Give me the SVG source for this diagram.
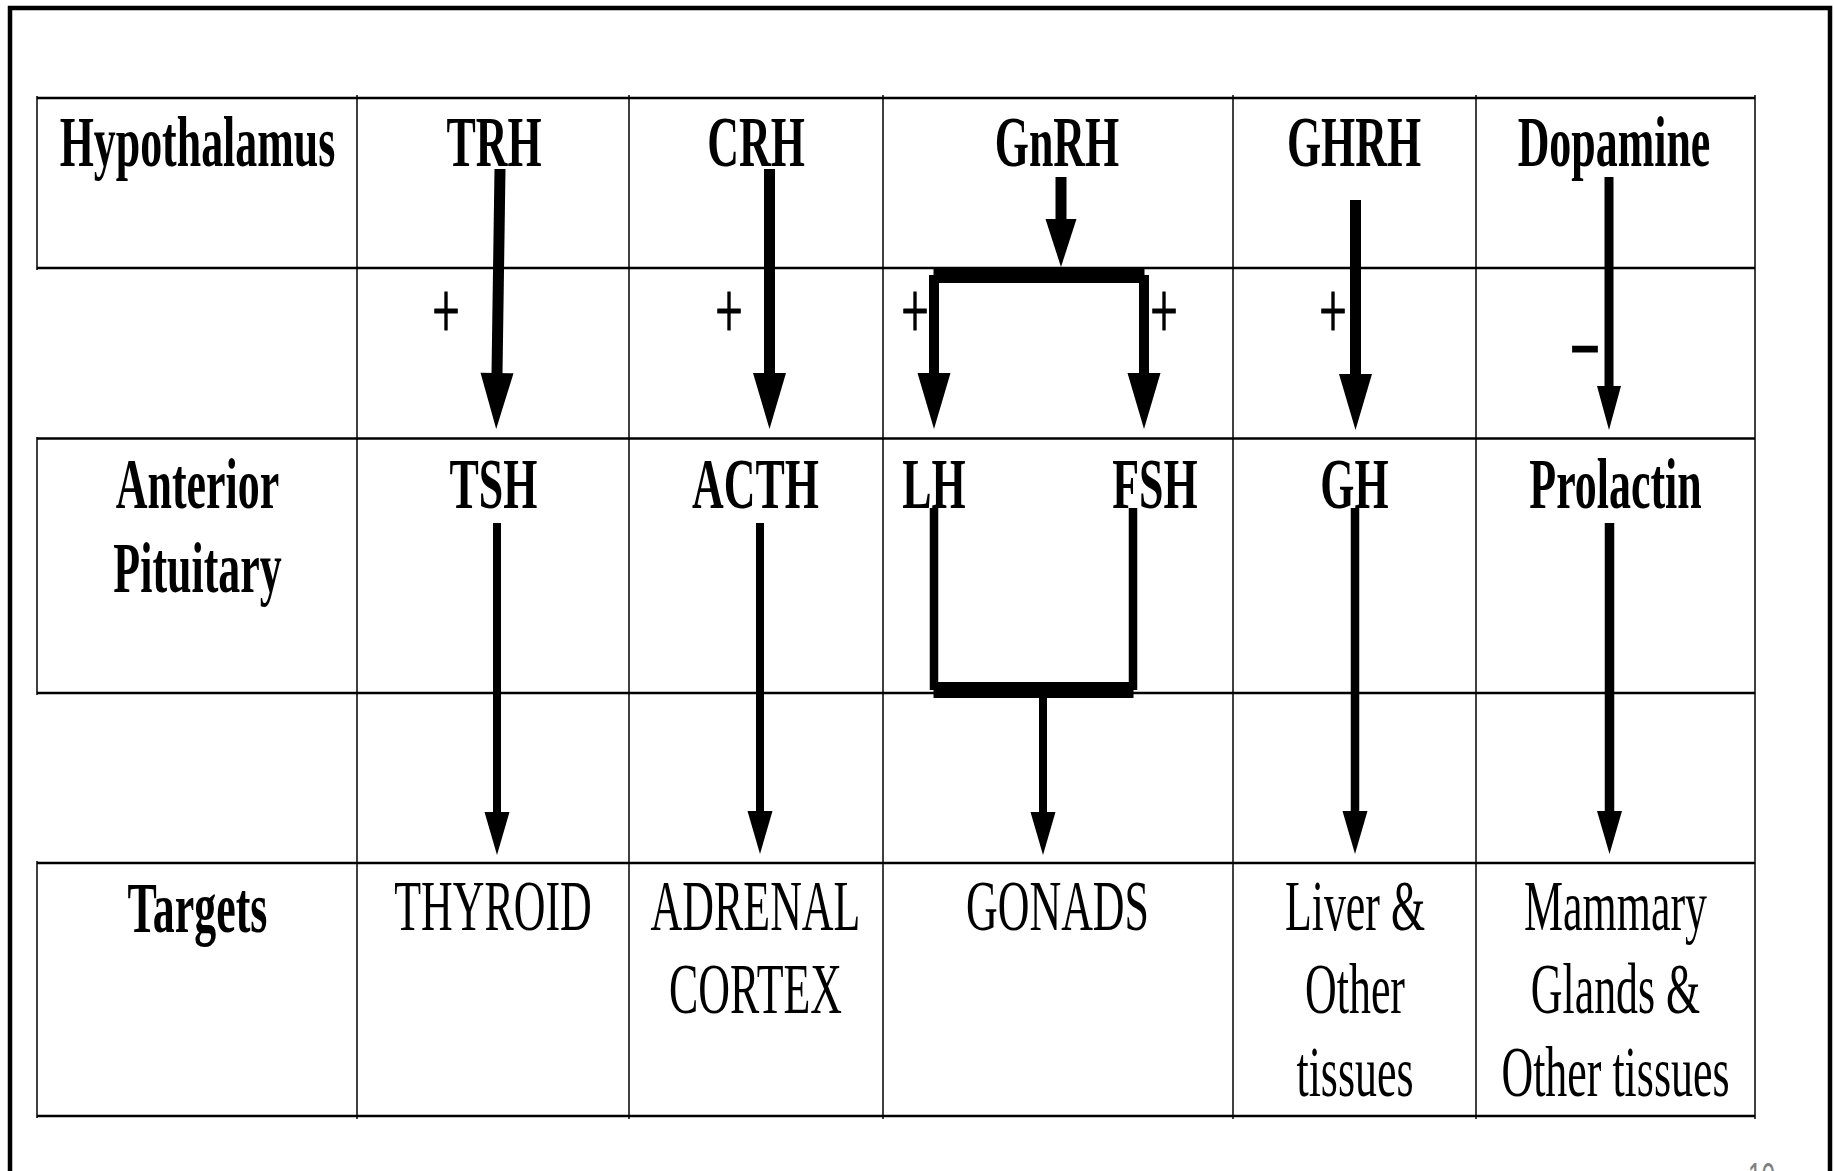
<svg xmlns="http://www.w3.org/2000/svg" width="1834" height="1171" viewBox="0 0 1834 1171">
  <style>
    .frame { fill: none; stroke: #000; stroke-width: 4.5; }
    .gh { stroke: #000; stroke-width: 2.5; }
    .gv { stroke: #000; stroke-width: 1.5; }
    .t { font-family: "Liberation Serif", "Times New Roman", serif; font-size: 72px; text-anchor: middle; fill: #000; }
    .b { font-weight: bold; }
    .sign { font-family: "Liberation Serif", "Times New Roman", serif; font-size: 80px; text-anchor: middle; fill: #000; stroke: #000; stroke-width: 1.2; }
    .pg { font-family: "Liberation Sans", Arial, sans-serif; font-size: 40px; text-anchor: middle; fill: #808080; }
    .ln { stroke: #000; fill: none; stroke-linecap: butt; }
    .bar { stroke: #000; fill: none; stroke-width: 15.5; }
  </style>
  <defs>
    <marker id="headL" markerUnits="userSpaceOnUse" markerWidth="60" markerHeight="40" refX="0" refY="0" orient="auto" overflow="visible">
      <path d="M-1,-16.5 L55,0 L-1,16.5 Z" fill="#000"/>
    </marker>
    <marker id="headM" markerUnits="userSpaceOnUse" markerWidth="50" markerHeight="36" refX="0" refY="0" orient="auto" overflow="visible">
      <path d="M-1,-15.5 L47,0 L-1,15.5 Z" fill="#000"/>
    </marker>
    <marker id="headS" markerUnits="userSpaceOnUse" markerWidth="46" markerHeight="30" refX="0" refY="0" orient="auto" overflow="visible">
      <path d="M-1,-12.5 L42,0 L-1,12.5 Z" fill="#000"/>
    </marker>
    <marker id="headD" markerUnits="userSpaceOnUse" markerWidth="46" markerHeight="30" refX="0" refY="0" orient="auto" overflow="visible">
      <path d="M-1,-12 L43,0 L-1,12 Z" fill="#000"/>
    </marker>
  </defs>

  <rect width="1834" height="1171" fill="#fff"/>

  <!-- slide border (open at the bottom edge) -->
  <path class="frame" d="M10,1190 V8 H1830 V1190"/>

  <!-- table grid -->
  <g id="grid">
    <line class="gh" x1="37" y1="98" x2="1755" y2="98"/>
    <line class="gh" x1="37" y1="268" x2="1755" y2="268"/>
    <line class="gh" x1="37" y1="438.5" x2="1755" y2="438.5"/>
    <line class="gh" x1="37" y1="693" x2="1755" y2="693"/>
    <line class="gh" x1="37" y1="863" x2="1755" y2="863"/>
    <line class="gh" x1="37" y1="1116" x2="1755" y2="1116"/>
    <line class="gv" x1="37" y1="96" x2="37" y2="270"/>
    <line class="gv" x1="37" y1="437" x2="37" y2="695"/>
    <line class="gv" x1="37" y1="861" x2="37" y2="1118"/>
    <line class="gv" x1="357" y1="95" x2="357" y2="1119"/>
    <line class="gv" x1="629" y1="95" x2="629" y2="1119"/>
    <line class="gv" x1="883" y1="95" x2="883" y2="1119"/>
    <line class="gv" x1="1233" y1="95" x2="1233" y2="1119"/>
    <line class="gv" x1="1476" y1="95" x2="1476" y2="1119"/>
    <line class="gv" x1="1755" y1="95" x2="1755" y2="1119"/>
  </g>

  <!-- row headers -->
  <g id="hypothalamus"><text class="t b" transform="translate(197.5,166) scale(0.61,1)">Hypothalamus</text></g>
  <g id="anterior-pituitary">
    <text class="t b" transform="translate(197.5,508) scale(0.61,1)">Anterior</text>
    <text class="t b" transform="translate(197.5,592) scale(0.61,1)">Pituitary</text>
  </g>
  <g id="targets"><text class="t b" transform="translate(197.5,932) scale(0.61,1)">Targets</text></g>

  <!-- hypothalamic hormones -->
  <g id="trh"><text class="t b" transform="translate(494,166) scale(0.61,1)">TRH</text></g>
  <g id="crh"><text class="t b" transform="translate(756,166) scale(0.61,1)">CRH</text></g>
  <g id="gnrh"><text class="t b" transform="translate(1057,166) scale(0.61,1)">GnRH</text></g>
  <g id="ghrh"><text class="t b" transform="translate(1354,166) scale(0.61,1)">GHRH</text></g>
  <g id="dopamine"><text class="t b" transform="translate(1614,166) scale(0.61,1)">Dopamine</text></g>

  <!-- pituitary hormones -->
  <g id="tsh"><text class="t b" transform="translate(493.5,508) scale(0.61,1)">TSH</text></g>
  <g id="acth"><text class="t b" transform="translate(755.5,508) scale(0.61,1)">ACTH</text></g>
  <g id="lh"><text class="t b" transform="translate(934,508) scale(0.61,1)">LH</text></g>
  <g id="fsh"><text class="t b" transform="translate(1155,508) scale(0.61,1)">FSH</text></g>
  <g id="gh"><text class="t b" transform="translate(1354.5,508) scale(0.61,1)">GH</text></g>
  <g id="prolactin"><text class="t b" transform="translate(1615.5,508) scale(0.61,1)">Prolactin</text></g>

  <!-- target tissues -->
  <g id="thyroid"><text class="t" transform="translate(493,930) scale(0.61,1)">THYROID</text></g>
  <g id="adrenal-cortex">
    <text class="t" transform="translate(755.5,930) scale(0.61,1)">ADRENAL</text>
    <text class="t" transform="translate(755.5,1013) scale(0.61,1)">CORTEX</text>
  </g>
  <g id="gonads"><text class="t" transform="translate(1057.5,930) scale(0.61,1)">GONADS</text></g>
  <g id="liver">
    <text class="t" transform="translate(1355,930) scale(0.61,1)">Liver &amp;</text>
    <text class="t" transform="translate(1355,1013) scale(0.61,1)">Other</text>
    <text class="t" transform="translate(1355,1096) scale(0.61,1)">tissues</text>
  </g>
  <g id="mammary">
    <text class="t" transform="translate(1615.5,930) scale(0.61,1)">Mammary</text>
    <text class="t" transform="translate(1615.5,1013) scale(0.61,1)">Glands &amp;</text>
    <text class="t" transform="translate(1615.5,1096) scale(0.61,1)">Other tissues</text>
  </g>

  <!-- connectors -->
  <g id="connectors">
    <!-- hypothalamus to pituitary -->
    <line class="ln" stroke-width="11" x1="500" y1="169" x2="497" y2="374" marker-end="url(#headL)"/>
    <line class="ln" stroke-width="11" x1="769.5" y1="169" x2="769.5" y2="374" marker-end="url(#headL)"/>
    <line class="ln" stroke-width="11" x1="1061" y1="177" x2="1061" y2="220" marker-end="url(#headM)"/>
    <line class="bar" x1="933.5" y1="275.25" x2="1144.5" y2="275.25"/>
    <line class="ln" stroke-width="10" x1="934" y1="275" x2="934" y2="374" marker-end="url(#headL)"/>
    <line class="ln" stroke-width="10" x1="1144" y1="275" x2="1144" y2="374" marker-end="url(#headL)"/>
    <line class="ln" stroke-width="11" x1="1355.5" y1="200" x2="1355.5" y2="375" marker-end="url(#headL)"/>
    <line class="ln" stroke-width="9" x1="1609" y1="177" x2="1609" y2="387" marker-end="url(#headD)"/>

    <!-- pituitary to targets -->
    <line class="ln" stroke-width="8" x1="497" y1="523" x2="497" y2="813" marker-end="url(#headS)"/>
    <line class="ln" stroke-width="8" x1="760" y1="523" x2="760" y2="812" marker-end="url(#headS)"/>
    <line class="ln" stroke-width="8.5" x1="934" y1="508" x2="934" y2="690"/>
    <line class="ln" stroke-width="8.5" x1="1133" y1="508" x2="1133" y2="690"/>
    <line class="ln" stroke-width="16" x1="933.5" y1="690" x2="1133.5" y2="690"/>
    <line class="ln" stroke-width="8" x1="1043" y1="698" x2="1043" y2="813" marker-end="url(#headS)"/>
    <line class="ln" stroke-width="8.5" x1="1355" y1="508" x2="1355" y2="812" marker-end="url(#headS)"/>
    <line class="ln" stroke-width="9.5" x1="1609.5" y1="523" x2="1609.5" y2="812" marker-end="url(#headS)"/>
  </g>

  <!-- stimulation / inhibition signs -->
  <g id="signs">
    <text class="sign" transform="translate(446,338) scale(0.61,1)">+</text>
    <text class="sign" transform="translate(729,338) scale(0.61,1)">+</text>
    <text class="sign" transform="translate(915,338) scale(0.61,1)">+</text>
    <text class="sign" transform="translate(1164,338) scale(0.61,1)">+</text>
    <text class="sign" transform="translate(1333,338) scale(0.61,1)">+</text>
    <text class="sign b" transform="translate(1585,367.5) scale(0.61,1)">–</text>
  </g>

  <!-- page number -->
  <text class="pg" transform="translate(1761.5,1191) scale(0.61,1)">10</text>
</svg>
